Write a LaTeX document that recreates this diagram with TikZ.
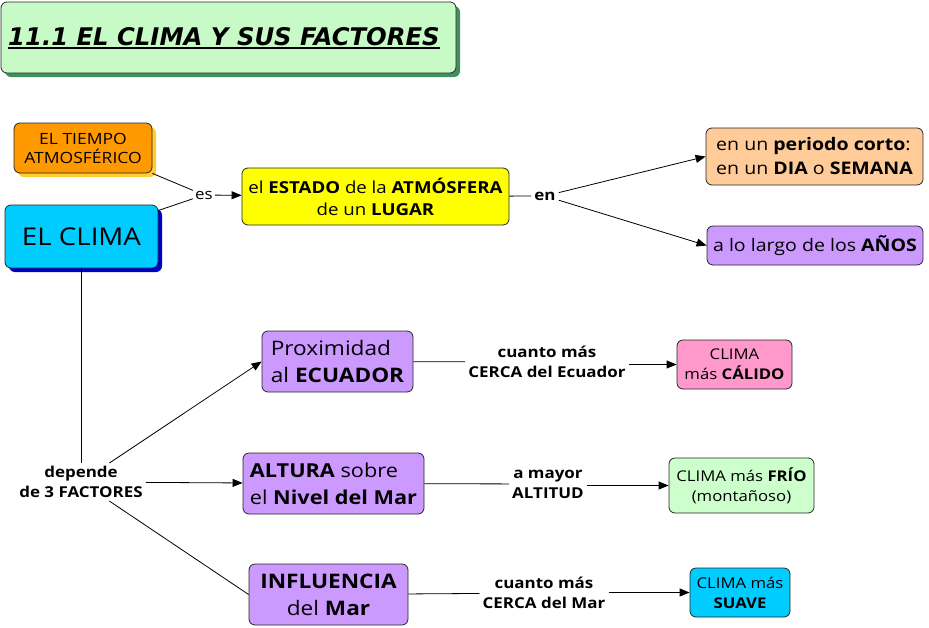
\documentclass[tikz,border=0pt]{standalone}
\usepackage{fontspec}
\setmainfont[FakeStretch=1.13]{Open Sans}
\newfontfamily\titlefont{DejaVu Sans}
\usetikzlibrary{shadows,arrows.meta}
\definecolor{cTitle}{HTML}{C8FAC8}
\definecolor{cTitleSh}{HTML}{3F8F5F}
\definecolor{cOrange}{HTML}{FF9900}
\definecolor{cOrangeSh}{HTML}{FFCC33}
\definecolor{cCyan}{HTML}{00CCFF}
\definecolor{cBlueSh}{HTML}{0000CC}
\definecolor{cYellow}{HTML}{FFFF00}
\definecolor{cPeach}{HTML}{FFCC99}
\definecolor{cPurple}{HTML}{CC99FF}
\definecolor{cPink}{HTML}{FF99CC}
\definecolor{cLGreen}{HTML}{CCFFCC}
\newcommand\setfs[2]{\fontsize{#1}{#2}\selectfont}
\newcommand\titleul[1]{{\setbox0\hbox{#1}\rlap{\raisebox{-4pt}{\rule{\wd0}{2pt}}}\box0}}
\tikzset{
  box/.style={draw=black!85, line width=0.8pt, rounded corners=6pt, align=center, inner sep=0pt},
  sh/.style={drop shadow={shadow xshift=4pt, shadow yshift=-4pt, fill=#1, opacity=1}},
  lab/.style={font=\bfseries\setfs{15}{20}, align=center, inner sep=3pt},
  arr/.style={-{Triangle[length=10pt,width=8pt]}, line width=0.8pt},
  con/.style={line width=0.8pt},
}
\begin{document}
\begin{tikzpicture}[x=1pt,y=-1pt]
\useasboundingbox (0,0) rectangle (929,627);
% title
\node[box, fill=cTitle, sh=cTitleSh, minimum width=455pt, minimum height=71pt] (title) at (228.5,37.5) {};
\node[anchor=base west, inner sep=0pt, font=\titlefont\bfseries\itshape\setfs{24.3}{28}] (titletext) at (8,45) {\titleul{11.1 EL CLIMA Y SUS FACTORES}};
% boxes
\node[box, fill=cOrange, sh=cOrangeSh, minimum width=138pt, minimum height=50pt, font=\setfs{15.5}{19}] (tiempo) at (83,148) {EL TIEMPO\\ATMOSFÉRICO};
\node[box, fill=cCyan, sh=cBlueSh, minimum width=153pt, minimum height=63pt, font=\setfs{24.5}{30}] (clima) at (81.5,236.5) {EL CLIMA};
\node[box, fill=cYellow, minimum width=267pt, minimum height=57pt, font=\setfs{16.5}{22}] (estado) at (375.5,196.5) {el \textbf{ESTADO} de la \textbf{ATMÓSFERA}\\de un \textbf{LUGAR}};
\node[box, fill=cPeach, minimum width=217pt, minimum height=57pt, align=left, font=\setfs{17.3}{24}] (periodo) at (814.5,156.5) {en un \textbf{periodo corto}:\\en un \textbf{DIA} o \textbf{SEMANA}};
\node[box, fill=cPurple, minimum width=216pt, minimum height=39pt, font=\setfs{17.3}{24}] (anos) at (815,245.5) {a lo largo de los \textbf{AÑOS}};
\node[box, fill=cPurple, minimum width=151pt, minimum height=61pt, align=left, font=\setfs{20}{27}] (prox) at (337.5,361.5) {Proximidad\\al \textbf{ECUADOR}};
\node[box, fill=cPurple, minimum width=181pt, minimum height=61pt, align=left, font=\setfs{19.2}{27}] (altura) at (333.5,483.5) {\textbf{ALTURA} sobre\\el \textbf{Nivel del Mar}};
\node[box, fill=cPurple, minimum width=159pt, minimum height=61pt, font=\setfs{20}{27}] (influ) at (328.5,594.5) {\textbf{INFLUENCIA}\\del \textbf{Mar}};
\node[box, fill=cPink, minimum width=115pt, minimum height=49pt, font=\setfs{14.8}{20}] (calido) at (734.5,364.5) {CLIMA\\más \textbf{CÁLIDO}};
\node[box, fill=cLGreen, minimum width=145pt, minimum height=55pt, font=\setfs{14.8}{20}] (frio) at (741.5,485.5) {CLIMA más \textbf{FRÍO}\\(montañoso)};
\node[box, fill=cCyan, minimum width=100pt, minimum height=49pt, font=\setfs{14.8}{20}] (suave) at (740,592.5) {CLIMA más\\\textbf{SUAVE}};
% labels
\node[lab, font=\setfs{15}{20}, inner sep=2pt] (es) at (204,195) {es};
\node[lab] (en) at (545,196) {en};
\node[lab] (depende) at (81,482) {depende\\de 3 FACTORES};
\node[lab] (lab1) at (547,362) {cuanto más\\CERCA del Ecuador};
\node[lab] (lab2) at (548,484) {a mayor\\ALTITUD};
\node[lab] (lab3) at (544,593) {cuanto más\\CERCA del Mar};
% connectors
\draw[con] (tiempo.south east) -- (es);
\draw[con] (clima) -- (es);
\draw[arr] (es) -- (estado);
\draw[con] (estado) -- (en);
\draw[arr] (en) -- (periodo.west);
\draw[arr] (en) -- (anos.west);
\draw[con] (clima.south) -- (clima.south |- depende.north);
\draw[arr] (depende) -- (prox.west);
\draw[arr] (depende) -- (altura);
\draw[con] (depende) -- (influ.west);
\draw[con] (prox) -- (lab1);
\draw[arr] (lab1.east |- calido.west) -- (calido.west);
\draw[con] (altura) -- (lab2);
\draw[arr] (lab2.east |- frio.west) -- (frio.west);
\draw[con] (influ) -- (lab3);
\draw[arr] (lab3.east |- suave.west) -- (suave.west);
\end{tikzpicture}
\end{document}
